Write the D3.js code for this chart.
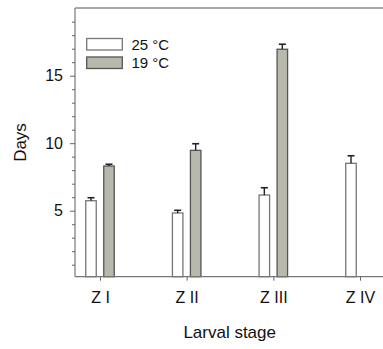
<!DOCTYPE html>
<html><head><meta charset="utf-8">
<script src="https://cdn.jsdelivr.net/npm/d3@7"></script>
<style>body{margin:0;background:#fff}svg{display:block}text{font-family:"Liberation Sans",Arial,sans-serif;fill:#111}</style>
</head><body><svg id="c" width="383" height="349"></svg>
<script>
const categories = ["Z I", "Z II", "Z III", "Z IV"];
const seriesNames = ["25 °C", "19 °C"];
const values25 = [5.74, 4.83, 6.16, 8.51];
const errors25 = [0.22, 0.20, 0.54, 0.56];
const values19 = [8.31, 9.47, 16.96, null];
const errors19 = [0.13, 0.49, 0.37, null];
const yMajorTicks = [5, 10, 15];
const yMinorTicks = [1,2,3,4,6,7,8,9,11,12,13,14,16,17,18,19];

const svg = d3.select("#c");
const fills = ["#ffffff", "#b8b8ac"];
const strokes = ["#777", "#555"];
const x = d3.scalePoint().domain(categories).range([100, 360]);
const sub = d3.scalePoint().domain(seriesNames).range([-9, 9]);
const y = d3.scaleLinear().domain([0, 20]).range([278.2, 8.2]);
const left = 75, bottomY = 276.7, topY = 8, right = 383, bw = 10.5;

const series = [
  {name: seriesNames[0], v: values25, e: errors25},
  {name: seriesNames[1], v: values19, e: errors19}
];

// bars
series.forEach((s, si) => {
  const g = svg.append("g");
  categories.forEach((c, i) => {
    if (s.v[i] == null) return;
    const cx = x(c) + sub(s.name);
    g.append("rect").attr("x", cx - bw/2).attr("y", y(s.v[i]))
      .attr("width", bw).attr("height", bottomY - y(s.v[i]))
      .attr("fill", fills[si]).attr("stroke", strokes[si]).attr("stroke-width", 1.3);
    const ty = y(s.v[i] + s.e[i]);
    g.append("line").attr("x1", cx).attr("x2", cx).attr("y1", y(s.v[i])).attr("y2", ty)
      .attr("stroke", "#222").attr("stroke-width", 1.4);
    g.append("line").attr("x1", cx - 3.5).attr("x2", cx + 3.5).attr("y1", ty).attr("y2", ty)
      .attr("stroke", "#222").attr("stroke-width", 1.6);
  });
});

// frame lines
svg.append("line").attr("x1", left).attr("x2", right).attr("y1", topY).attr("y2", topY)
  .attr("stroke", "#555").attr("stroke-width", 1.2);
svg.append("line").attr("x1", left).attr("x2", right).attr("y1", bottomY).attr("y2", bottomY)
  .attr("stroke", "#777").attr("stroke-width", 1.2);
svg.append("line").attr("x1", left).attr("x2", left).attr("y1", topY).attr("y2", bottomY)
  .attr("stroke", "#777").attr("stroke-width", 1.2);

// y axis ticks
const ya = svg.append("g").attr("transform", `translate(${left},0)`)
  .call(d3.axisLeft(y).tickValues(yMajorTicks).tickSize(5).tickPadding(7));
ya.select(".domain").remove();
ya.selectAll("line").attr("stroke", "#666");
ya.selectAll("text").style("font-size", "16px").attr("fill", "#111");
const ym = svg.append("g").attr("transform", `translate(${left},0)`)
  .call(d3.axisLeft(y).tickValues(yMinorTicks).tickSize(3).tickFormat(""));
ym.select(".domain").remove();
ym.selectAll("line").attr("stroke", "#666");

// x axis ticks
const xa = svg.append("g").attr("transform", `translate(0,${bottomY})`)
  .call(d3.axisBottom(x).tickSize(4).tickPadding(11));
xa.select(".domain").remove();
xa.selectAll("line").attr("stroke", "#666");
xa.selectAll("text").style("font-size", "16px").attr("fill", "#111");

// axis titles
svg.append("text").attr("x", 229.7).attr("y", 338).attr("text-anchor", "middle")
  .style("font-size", "17px").text("Larval stage");
svg.append("text").attr("transform", "translate(26,142.5) rotate(-90)").attr("text-anchor", "middle")
  .style("font-size", "17px").text("Days");

// legend
const leg = svg.append("g");
[38.5, 57].forEach((ly, i) => {
  leg.append("rect").attr("x", 86.7).attr("y", ly).attr("width", 35.6).attr("height", 11.5)
    .attr("fill", fills[i]).attr("stroke", strokes[i]).attr("stroke-width", 1.3);
  leg.append("text").attr("x", 131.5).attr("y", ly + 11).style("font-size", "15px").text(seriesNames[i]);
});
</script></body></html>
